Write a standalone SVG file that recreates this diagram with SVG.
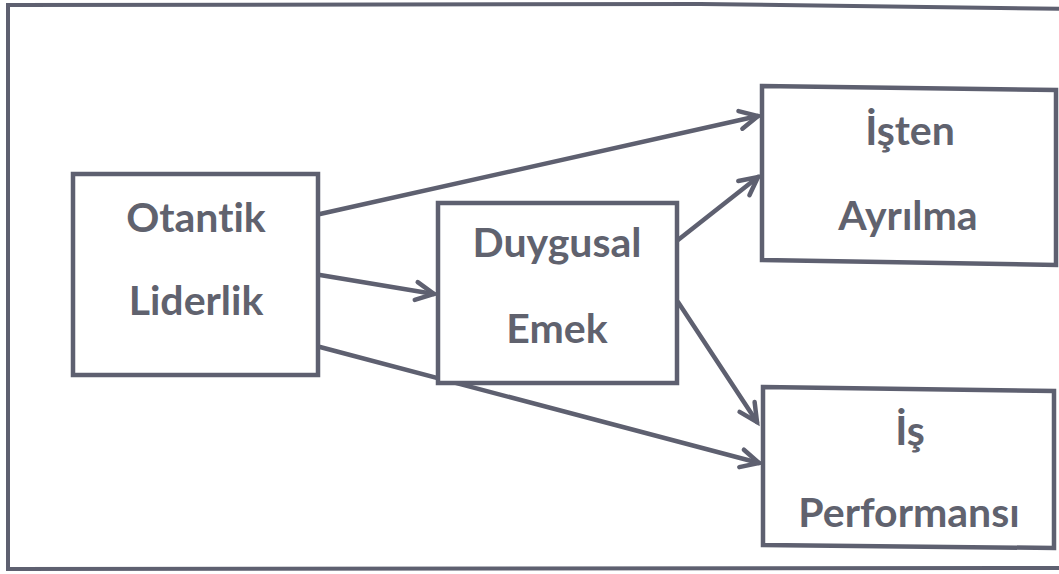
<svg xmlns="http://www.w3.org/2000/svg" width="1059" height="574" viewBox="0 0 1059 574">
<style>
.box{fill:#ffffff;stroke:#5e6070;stroke-width:4.5;stroke-linejoin:miter}
.frame{fill:none;stroke:#5e6070;stroke-width:4}
.lbl{font-family:Lato,"Open Sans","Liberation Sans",sans-serif;font-weight:bold;font-size:41px;fill:#60626e;text-anchor:middle;font-variant-ligatures:none;font-feature-settings:"liga" 0}
.conn{stroke:#5e6070;stroke-width:4.5;fill:none;stroke-linecap:round}
</style>
<defs>
<marker id="arr" markerUnits="userSpaceOnUse" markerWidth="30" markerHeight="30" viewBox="-24 -15 30 30" refX="0" refY="0" orient="auto">
<path d="M-18,-9 L0,0 L-18,9" fill="none" stroke="#5e6070" stroke-width="4.5" stroke-linecap="round" stroke-linejoin="miter"/>
</marker>
</defs>
<rect width="1059" height="574" fill="#ffffff"/>
<polygon class="frame" points="8,5 700,4 1070,9 1070,568 8,569"/>
<g id="connectors">
<line class="conn" x1="320" y1="214" x2="758" y2="116" marker-end="url(#arr)"/>
<line class="conn" x1="320" y1="275" x2="434" y2="294" marker-end="url(#arr)"/>
<line class="conn" x1="320" y1="347" x2="759" y2="463" marker-end="url(#arr)"/>
<line class="conn" x1="678" y1="240" x2="758" y2="177" marker-end="url(#arr)"/>
<line class="conn" x1="678" y1="302" x2="757" y2="422" marker-end="url(#arr)"/>
</g>
<g id="otantik">
<rect class="box" x="73" y="174" width="245" height="201"/>
<text class="lbl" x="196" y="232">Otantik</text>
<text class="lbl" x="196" y="315">Liderlik</text>
</g>
<g id="duygusal">
<rect class="box" x="438" y="203" width="239" height="180"/>
<text class="lbl" x="557" y="257">Duygusal</text>
<text class="lbl" x="557" y="343">Emek</text>
</g>
<g id="isten">
<polygon class="box" points="762,86 1056,90 1056,265 762,260"/>
<text class="lbl" x="910" y="145">İşten</text>
<text class="lbl" x="908" y="230">Ayrılma</text>
</g>
<g id="isperf">
<polygon class="box" points="763,387 1054,391 1054,548 763,545"/>
<text class="lbl" x="910" y="445">İş</text>
<text class="lbl" x="909" y="527">Performansı</text>
</g>
</svg>
